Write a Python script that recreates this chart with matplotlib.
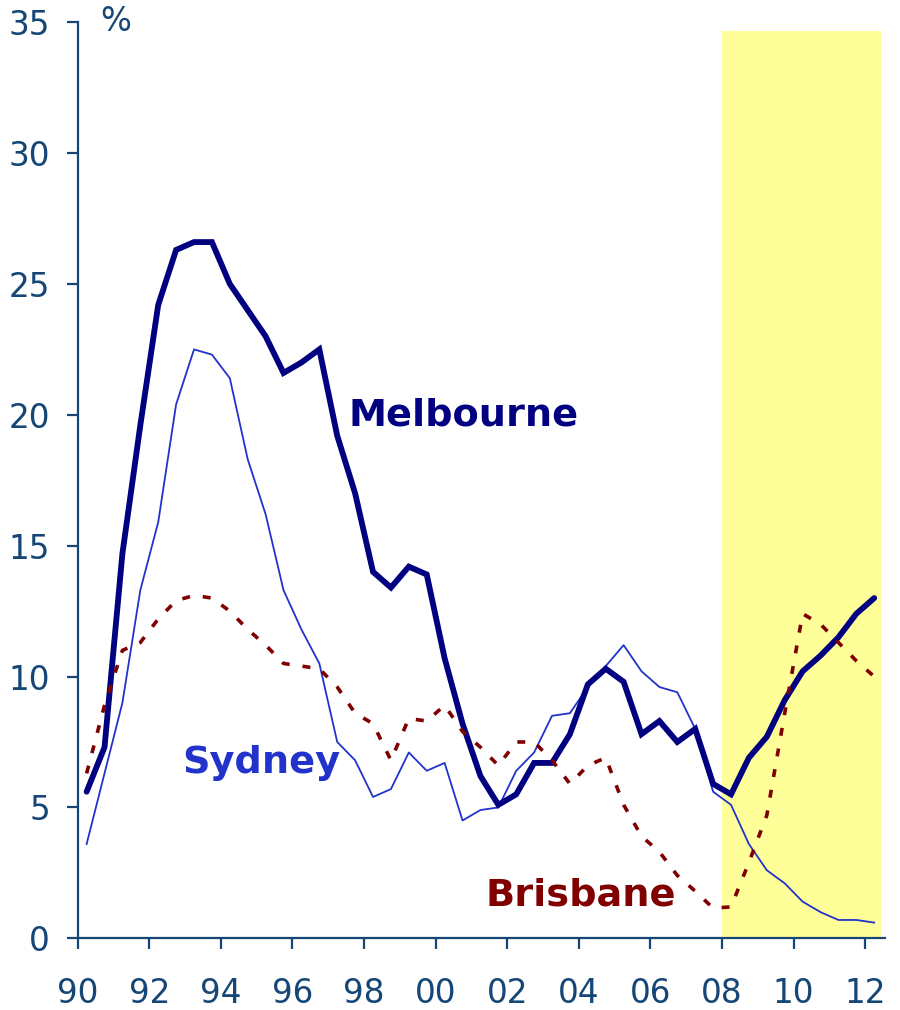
import matplotlib
matplotlib.use("Agg")
import matplotlib.pyplot as plt
import numpy as np

# half-yearly observations, 1990.25 .. 2012.25
years = np.arange(1990.25, 2012.3, 0.5)

melbourne = [5.6, 7.3, 14.7, 19.6, 24.2, 26.3, 26.6, 26.6, 25.0, 24.0,
             23.0, 21.6, 22.0, 22.5, 19.2, 17.0, 14.0, 13.4, 14.2, 13.9,
             10.7, 8.2, 6.2, 5.1, 5.5, 6.7, 6.7, 7.8, 9.7, 10.3,
             9.8, 7.8, 8.3, 7.5, 8.0, 5.9, 5.5, 6.9, 7.7, 9.1,
             10.2, 10.8, 11.5, 12.4, 13.0]

sydney = [3.6, 6.3, 9.0, 13.3, 15.9, 20.4, 22.5, 22.3, 21.4, 18.3,
          16.2, 13.3, 11.8, 10.5, 7.5, 6.8, 5.4, 5.7, 7.1, 6.4,
          6.7, 4.5, 4.9, 5.0, 6.4, 7.1, 8.5, 8.6, 9.6, 10.4,
          11.2, 10.2, 9.6, 9.4, 8.0, 5.6, 5.1, 3.6, 2.6, 2.1,
          1.4, 1.0, 0.7, 0.7, 0.6]

brisbane = [6.3, 8.9, 11.0, 11.3, 12.2, 12.9, 13.1, 13.0, 12.5, 11.8,
            11.2, 10.5, 10.4, 10.3, 9.6, 8.6, 8.2, 6.8, 8.4, 8.3,
            8.9, 7.9, 7.3, 6.6, 7.5, 7.5, 6.8, 5.9, 6.6, 6.9,
            5.1, 3.9, 3.3, 2.4, 1.8, 1.15, 1.2, 2.9, 4.7, 8.6,
            12.4, 12.0, 11.3, 10.6, 10.0]

tick_years = np.arange(1990, 2013, 2)
tick_labels = ["90", "92", "94", "96", "98", "00", "02", "04", "06", "08", "10", "12"]

axis_col = "#154676"

fig = plt.figure(figsize=(9, 10.1), dpi=100)
ax = fig.add_axes([0.0863, 0.071, 0.897, 0.907])

ax.axvspan(2008, 2012.45, ymax=34.65 / 35, color="#FFFF99", zorder=0, lw=0)

ax.plot(years, sydney, color="#2233CC", lw=1.3, zorder=2)
ax.plot(years, melbourne, color="#000080", lw=4.2, zorder=3,
        solid_capstyle="round", solid_joinstyle="miter")
ax.plot(years, brisbane, color="#800000", lw=2.6, zorder=4,
        linestyle=(0, (2.2, 3.6)))

ax.text(1997.57, 19.6, "Melbourne", color="#000080", fontsize=27.5,
        fontweight="bold", ha="left", va="baseline")
ax.text(1992.93, 6.3, "Sydney", color="#2233CC", fontsize=27.5,
        fontweight="bold", ha="left", va="baseline")
ax.text(2001.38, 1.24, "Brisbane", color="#800000", fontsize=27.5,
        fontweight="bold", ha="left", va="baseline")

ax.set_xlim(1990, 2012.55)
ax.set_ylim(0, 35)
ax.set_xticks(tick_years)
ax.set_xticklabels(tick_labels)
ax.set_yticks(np.arange(0, 36, 5))

for s in ["top", "right"]:
    ax.spines[s].set_visible(False)
for s in ["left", "bottom"]:
    ax.spines[s].set_color(axis_col)
    ax.spines[s].set_linewidth(1.6)

ax.tick_params(axis="both", colors=axis_col, labelsize=23.5, width=1.6,
               length=8, direction="out")
ax.tick_params(axis="y", pad=12)
ax.tick_params(axis="x", pad=20)

fig.text(0.111, 0.9693, "%", color=axis_col, fontsize=23.5,
         ha="left", va="baseline")

fig.savefig("out.png", dpi=100)
